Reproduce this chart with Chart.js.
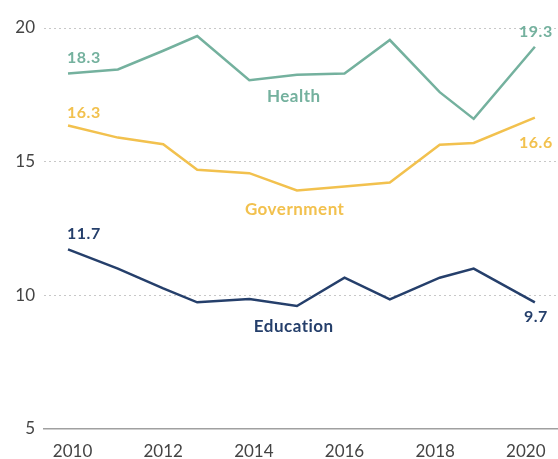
<!DOCTYPE html>
<html>
<head>
<meta charset="utf-8">
<script src="https://cdn.jsdelivr.net/npm/chart.js@4.4.1/dist/chart.umd.min.js"></script>
<style>
  html, body { margin: 0; padding: 0; background: #fff; }
  #wrap { width: 558px; height: 459px; position: relative; }
</style>
</head>
<body>
<div id="wrap"><canvas id="chart"></canvas></div>
<script>
const years = [2009.9, 2011.0, 2012.0, 2012.75, 2013.9, 2014.95, 2016.0, 2017.0, 2018.1, 2018.85, 2020.2];

const health = [18.3, 18.45, 19.15, 19.7, 18.05, 18.25, 18.3, 19.55, 17.6, 16.6, 19.3];
const government = [16.35, 15.9, 15.65, 14.7, 14.57, 13.92, 14.07, 14.22, 15.63, 15.7, 16.65];
const education = [11.72, 11.0, 10.26, 9.74, 9.86, 9.6, 10.66, 9.85, 10.66, 11.0, 9.74];

const xTicks = [2010, 2012, 2014, 2016, 2018, 2020];
const yTicks = [5, 10, 15, 20];

const seriesNames = ['Health', 'Government', 'Education'];
const firstLabels = ['18.3', '16.3', '11.7'];
const lastLabels = ['19.3', '16.6', '9.7'];

const COLORS = ['#74b19e', '#f2c14e', '#253f6b'];
const FONT = 'Lato, "Open Sans", sans-serif';

function points(values) {
  return values.map((v, i) => ({ x: years[i], y: v }));
}

// text placed next to the lines: value at first/last point, series name mid-chart
const seriesLabels = {
  id: 'seriesLabels',
  afterDatasetsDraw(chart) {
    const { ctx, scales: { x, y } } = chart;
    const nameSpots = [[2014.88, 17.43], [2014.9, 13.2], [2014.88, 8.85]];
    const firstOffset = [-16, -13, -16];
    const lastOffset = [-15, 25, 15];
    ctx.save();
    ctx.textBaseline = 'middle';
    ctx.letterSpacing = '0.5px';
    chart.data.datasets.forEach((ds, i) => {
      const d = ds.data;
      const p0 = d[0];
      const pN = d[d.length - 1];
      ctx.fillStyle = COLORS[i];
      ctx.font = `bold 16px ${FONT}`;
      ctx.textAlign = 'left';
      ctx.fillText(firstLabels[i], x.getPixelForValue(p0.x) - 1, y.getPixelForValue(p0.y) + firstOffset[i]);
      ctx.textAlign = 'center';
      ctx.fillText(lastLabels[i], x.getPixelForValue(pN.x) + 1, y.getPixelForValue(pN.y) + lastOffset[i]);
      ctx.font = `bold 17px ${FONT}`;
      ctx.fillText(seriesNames[i], x.getPixelForValue(nameSpots[i][0]), y.getPixelForValue(nameSpots[i][1]));
    });
    ctx.restore();
  },
};

new Chart(document.getElementById('chart').getContext('2d'), {
  type: 'line',
  data: {
    datasets: [
      { label: seriesNames[0], data: points(health), borderColor: COLORS[0] },
      { label: seriesNames[1], data: points(government), borderColor: COLORS[1] },
      { label: seriesNames[2], data: points(education), borderColor: COLORS[2] },
    ].map((ds) => ({ ...ds, borderWidth: 2.5, pointRadius: 0, tension: 0, fill: false })),
  },
  options: {
    animation: false,
    responsive: true,
    maintainAspectRatio: false,
    layout: { padding: { top: 28, right: 0, left: 0, bottom: 0 } },
    plugins: { legend: { display: false }, tooltip: { enabled: false } },
    scales: {
      x: {
        type: 'linear',
        min: 2009.37,
        max: 2020.71,
        afterBuildTicks: (axis) => { axis.ticks = xTicks.map((v) => ({ value: v })); },
        afterFit: (axis) => { axis.height = 30; },
        grid: { display: false },
        border: { display: true, color: '#a0a0a0', width: 1.5 },
        ticks: {
          callback: (v) => String(v),
          color: '#444',
          font: { family: FONT, size: 17 },
          padding: 4,
          maxRotation: 0,
        },
      },
      y: {
        min: 5,
        max: 20,
        afterBuildTicks: (axis) => { axis.ticks = yTicks.map((v) => ({ value: v })); },
        afterFit: (axis) => { axis.width = 44; },
        grid: {
          drawTicks: false,
          color: (c) => (c.tick && c.tick.value === 5 ? 'rgba(0,0,0,0)' : '#c8c8c8'),
          lineWidth: 1,
        },
        border: { display: false, dash: [2, 3] },
        ticks: {
          color: '#444',
          font: { family: FONT, size: 17 },
          padding: 9,
        },
      },
    },
  },
  plugins: [seriesLabels],
});
</script>
</body>
</html>
